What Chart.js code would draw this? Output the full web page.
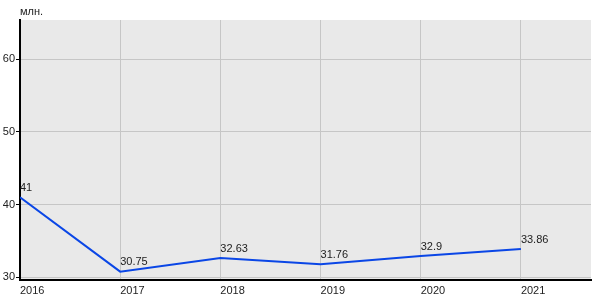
<!DOCTYPE html>
<html>
<head>
<meta charset="utf-8">
<script src="https://cdn.jsdelivr.net/npm/chart.js@4"></script>
<style>
  html, body { margin: 0; padding: 0; background: #fff; }
  #wrap { width: 600px; height: 300px; position: relative; }
</style>
</head>
<body>
<div id="wrap"><canvas id="canvas"></canvas></div>
<script>
const years = [2016, 2017, 2018, 2019, 2020, 2021];
const values = [41, 30.75, 32.63, 31.76, 32.9, 33.86];
const yTicks = [30, 40, 50, 60];
const unitLabel = 'млн.';

const FONT = 'Arial, "Liberation Sans", sans-serif';

// gray plot area + unit caption + value labels
const decor = {
  id: 'decor',
  beforeDraw(chart) {
    const { ctx, chartArea: a } = chart;
    ctx.save();
    ctx.fillStyle = '#e9e9e9';
    ctx.fillRect(a.left, a.top, a.right - a.left, a.bottom - a.top);
    ctx.restore();
  },
  afterDatasetsDraw(chart) {
    const { ctx, chartArea: a } = chart;
    ctx.save();
    ctx.font = '11px ' + FONT;
    ctx.fillStyle = '#222';
    ctx.textAlign = 'left';
    ctx.textBaseline = 'bottom';
    ctx.fillText(unitLabel, a.left, a.top - 3);
    const meta = chart.getDatasetMeta(0);
    meta.data.forEach((pt, i) => {
      ctx.fillText(String(values[i]), pt.x, pt.y - 4);
    });
    ctx.restore();
  }
};

new Chart(document.getElementById('canvas'), {
  type: 'line',
  data: {
    datasets: [{
      data: years.map((y, i) => ({ x: y, y: values[i] })),
      borderColor: '#0a46e6',
      borderWidth: 2,
      pointRadius: 0,
      tension: 0,
      fill: false
    }]
  },
  plugins: [decor],
  options: {
    responsive: true,
    maintainAspectRatio: false,
    animation: false,
    layout: { padding: { top: 20, right: 9, left: 0, bottom: 0 } },
    plugins: {
      legend: { display: false },
      tooltip: { enabled: false }
    },
    scales: {
      x: {
        type: 'linear',
        min: 2016,
        max: 2021.7,
        afterBuildTicks: (s) => { s.ticks = years.map(v => ({ value: v })); },
        afterFit: (s) => { s.height = 20; },
        ticks: {
          align: 'start',
          padding: 4,
          color: '#222',
          font: { family: FONT, size: 11 },
          maxRotation: 0,
          callback: (v) => String(v)
        },
        grid: { color: '#c6c6c6', lineWidth: 1, drawTicks: false },
        border: { color: '#000', width: 2 }
      },
      y: {
        min: 29.6,
        max: 65.4,
        afterBuildTicks: (s) => { s.ticks = yTicks.map(v => ({ value: v })); },
        afterFit: (s) => { s.width = 20; },
        ticks: {
          padding: 1,
          color: '#222',
          font: { family: FONT, size: 11 },
          callback: (v) => String(v)
        },
        grid: { color: '#c6c6c6', lineWidth: 1, tickLength: 4, tickColor: '#000' },
        border: { color: '#000', width: 2 }
      }
    }
  }
});
</script>
</body>
</html>
